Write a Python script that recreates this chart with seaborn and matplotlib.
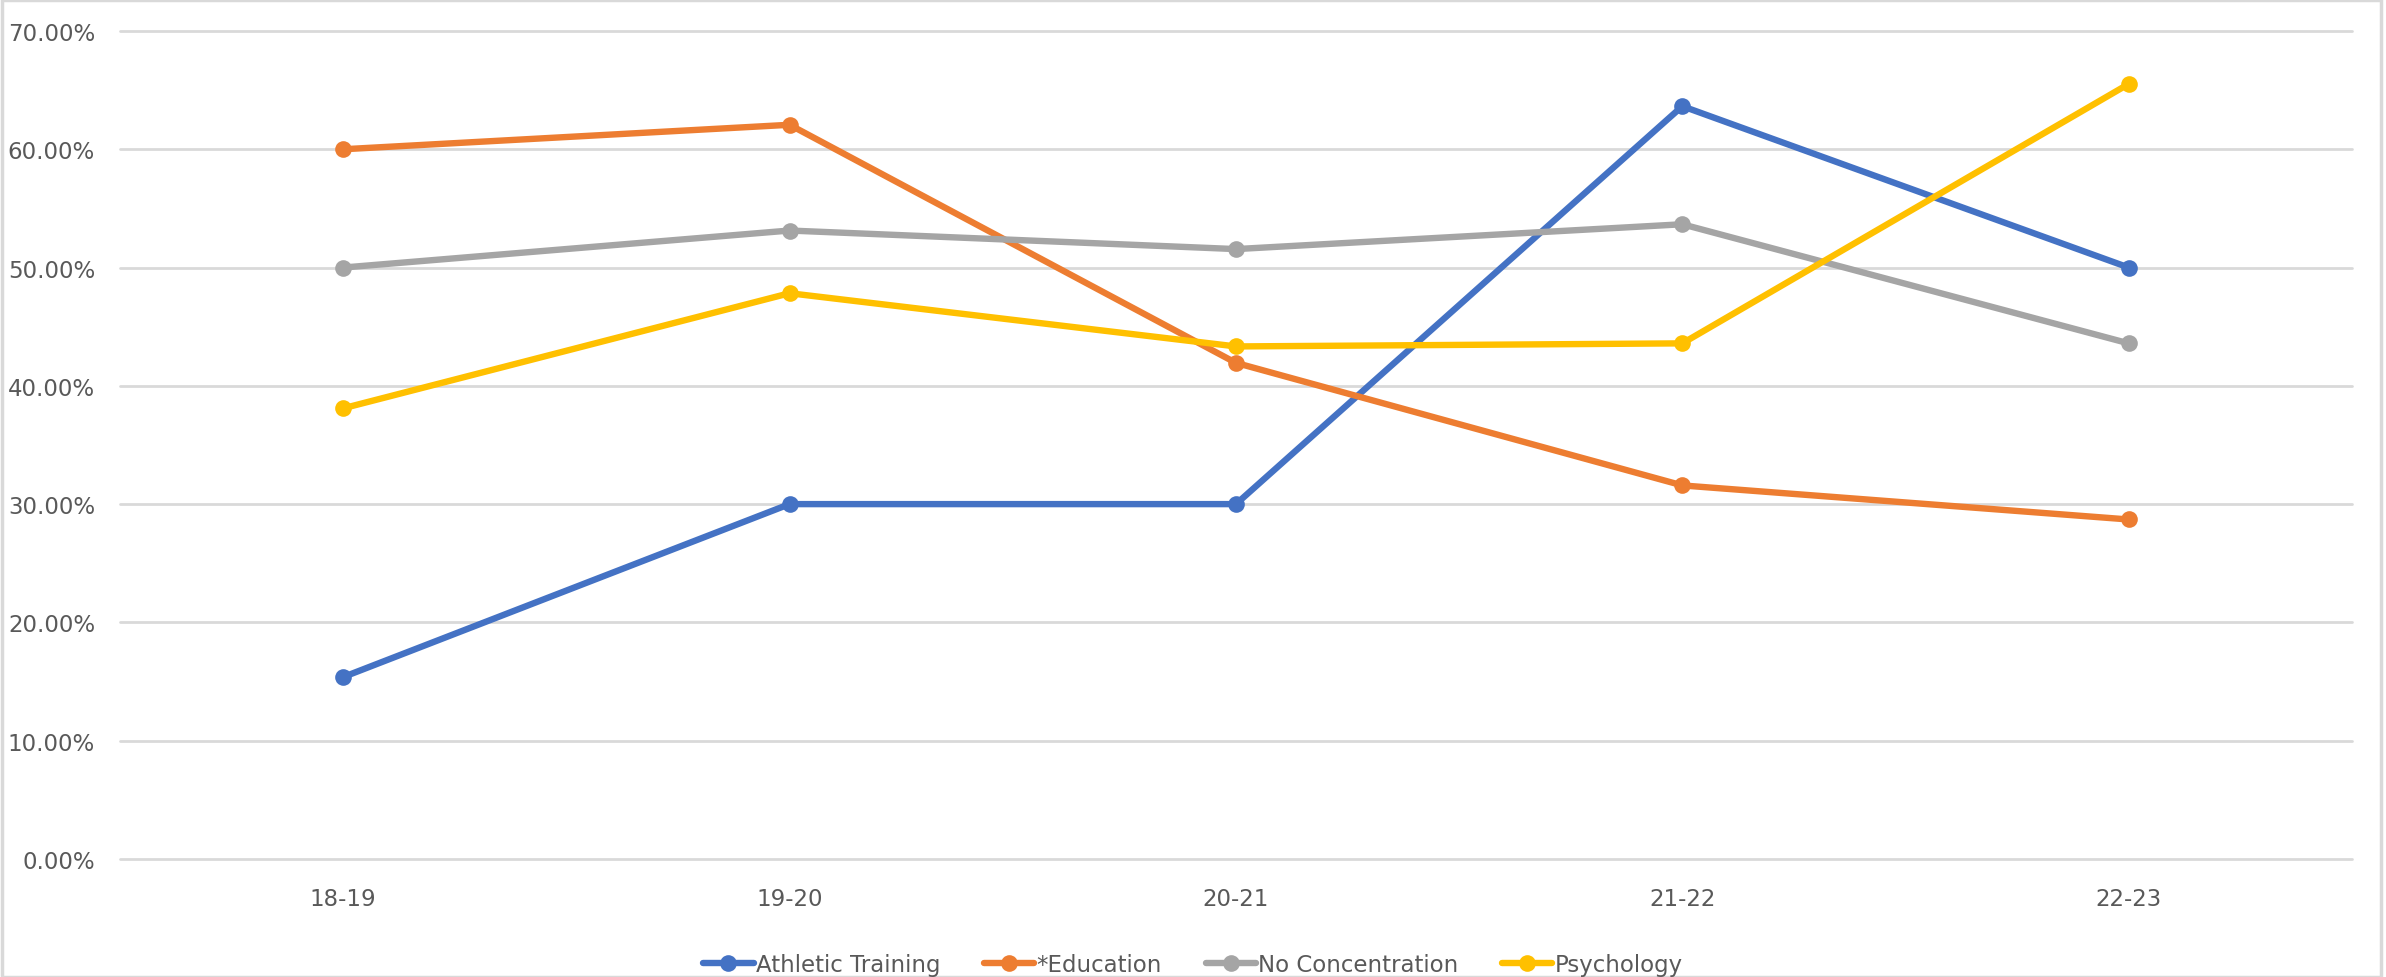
import matplotlib
matplotlib.use("Agg")
import matplotlib.pyplot as plt
import seaborn as sns
import pandas as pd
from matplotlib.ticker import PercentFormatter
from matplotlib.patches import Rectangle

# Data
years = ["18-19", "19-20", "20-21", "21-22", "22-23"]
athletic_training = [15.38, 30.00, 30.00, 63.64, 50.00]
education = [60.00, 62.07, 41.94, 31.58, 28.70]
no_concentration = [50.00, 53.13, 51.56, 53.66, 43.59]
psychology = [38.10, 47.83, 43.33, 43.59, 65.52]

series_names = ["Athletic Training", "*Education", "No Concentration", "Psychology"]
colors = ["#4472C4", "#ED7D31", "#A5A5A5", "#FFC000"]

df = pd.DataFrame({
    "year": years * 4,
    "value": [v / 100 for v in athletic_training + education + no_concentration + psychology],
    "series": [n for n in series_names for _ in years],
})

sns.set_theme(style="white")
plt.rcParams["font.family"] = ["Liberation Sans Narrow", "DejaVu Sans"]

fig = plt.figure(figsize=(23.86, 9.78), dpi=100)
ax = fig.add_axes([0.0503, 0.1207, 0.9354, 0.8466])

for name, color in zip(series_names, colors):
    sub = df[df["series"] == name]
    sns.lineplot(data=sub, x="year", y="value", ax=ax, color=color, linewidth=4.6,
                 marker="o", markersize=12, markeredgewidth=0, label=name, sort=False)

ax.set_xlim(-0.5, 4.5)
ax.set_ylim(0, 0.7)
ax.set_yticks([i / 10 for i in range(8)])
ax.yaxis.set_major_formatter(PercentFormatter(1.0, decimals=2))
ax.grid(axis="y", color="#D9D9D9", linewidth=2.0)
for gl in ax.get_ygridlines():
    gl.set_clip_on(False)
ax.set_axisbelow(True)
for s in ax.spines.values():
    s.set_visible(False)
ax.set_xlabel("")
ax.set_ylabel("")
ax.tick_params(axis="both", length=0, labelsize=16.5, colors="#595959")
ax.tick_params(axis="x", pad=20)
ax.tick_params(axis="y", pad=18)

handles, labels = ax.get_legend_handles_labels()
ax.get_legend().remove()
fig.legend(handles, labels, loc="lower center", bbox_to_anchor=(0.5, -0.02), ncol=4,
           frameon=False, fontsize=16.5, labelcolor="#595959", handlelength=2.2,
           handletextpad=0.1, columnspacing=1.9)

# light chart-area border
fig.patches.append(Rectangle((0.001, 0.0), 0.997, 0.999, transform=fig.transFigure,
                             fill=False, edgecolor="#D9D9D9", linewidth=2.5))

fig.savefig("out.png", dpi=100)
